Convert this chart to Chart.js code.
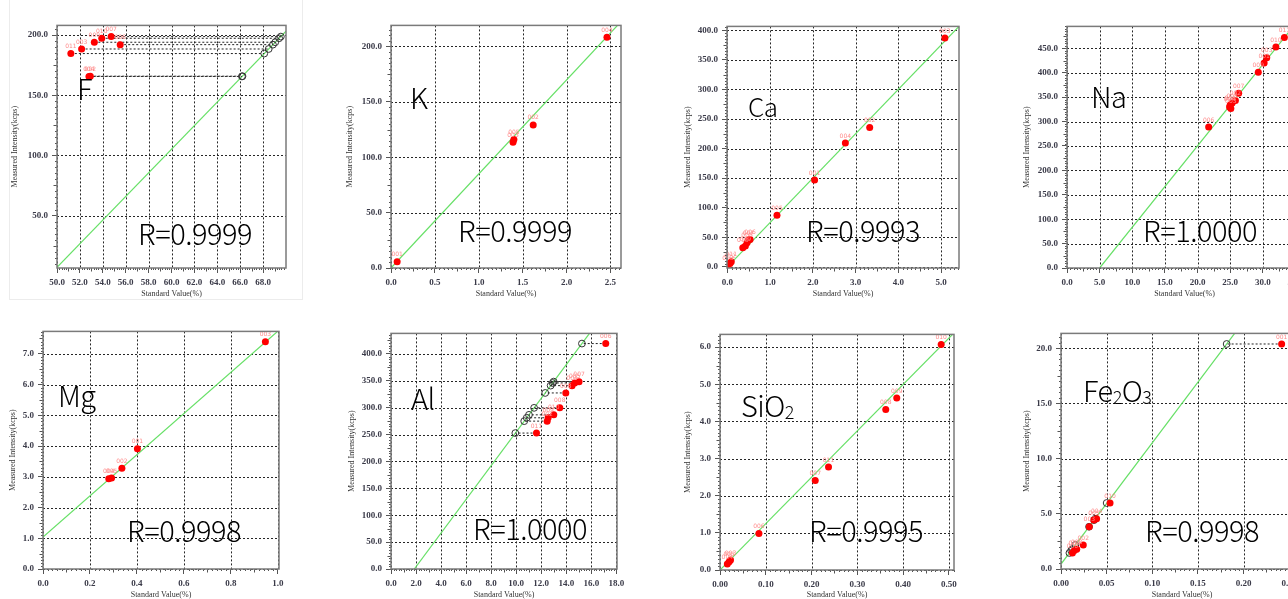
<!DOCTYPE html>
<html><head><meta charset="utf-8">
<script src="https://cdn.jsdelivr.net/npm/chart.js@4.4.1/dist/chart.umd.min.js"></script>
<style>
html,body{margin:0;padding:0;background:#fff;}
body{width:1288px;height:599px;overflow:hidden;position:relative;}
canvas{position:absolute;}
.big{position:absolute;font-family:"Noto Sans CJK JP","Noto Sans",sans-serif;font-weight:300;line-height:1;color:#000;white-space:nowrap;letter-spacing:-0.5px;}
.big sub{font-size:0.62em;vertical-align:baseline;position:relative;top:0.12em;}
.frameF{position:absolute;left:9px;top:-1px;width:292px;height:299px;border:1px solid #ececec;}
</style></head><body>
<div class="frameF"></div>
<script>
// ---------------- DATA ----------------
const xTitle = "Standard Value(%)";
const yTitle = "Measured Intensity(kcps)";

// F
const fXTicks = ["50.0","52.0","54.0","56.0","58.0","60.0","62.0","64.0","66.0","68.0"];
const fYTicks = ["50.0","100.0","150.0","200.0"];
const fRedX  = [51.21, 52.15, 53.26, 53.91, 54.73, 55.52, 52.79, 52.91];
const fCircX = [68.10, 68.49, 69.06, 69.40, 69.55, 68.86, 66.15, 66.20];
const fY     = [184.6, 188.4, 194.0, 197.3, 198.7, 192.0, 165.6, 165.8];
const fNames = ["011","003","009","010","007","006","004","002"];
const fFitX = [50, 70], fFitY = [7, 203.2];

// K
const kXTicks = ["0.0","0.5","1.0","1.5","2.0","2.5"];
const kYTicks = ["0.0","50.0","100.0","150.0","200.0"];
const kX = [0.07, 1.39, 1.40, 1.62, 2.46];
const kY = [5.7, 113.6, 116.0, 129.2, 208.4];
const kNames = ["001","003","005","002","004"];
const kFitX = [0, 2.62], kFitY = [0, 222.4];

// Ca
const caXTicks = ["0.0","1.0","2.0","3.0","4.0","5.0"];
const caYTicks = ["0.0","50.0","100.0","150.0","200.0","250.0","300.0","350.0","400.0"];
const caX = [0.01, 0.06, 0.09, 0.36, 0.42, 0.46, 0.49, 0.53, 1.16, 2.04, 2.76, 3.33, 5.09];
const caY = [1.7, 5.6, 8.4, 32.4, 35.2, 40.8, 45.2, 46.4, 87.1, 146.9, 209.5, 235.7, 387.1];
const caNames = ["013","012","011","010","009","008","007","006","005","001","004","002","003"];
const caFitX = [0, 5.42], caFitY = [0, 406.7];

// Na
const naXTicks = ["0.0","5.0","10.0","15.0","20.0","25.0","30.0","35.0"];
const naYTicks = ["0.0","50.0","100.0","150.0","200.0","250.0","300.0","350.0","400.0","450.0"];
const naX = [21.7, 24.9, 25.0, 25.1, 25.3, 25.8, 26.3, 29.3, 30.2, 30.6, 32.0, 33.3];
const naY = [288.9, 330.0, 334.0, 327.0, 338.0, 343.0, 358.0, 401.0, 420.0, 431.0, 452.7, 472.4];
const naNames = ["006","004","005","003","008","002","007","009","001","003","010","011"];
const naFitX = [5, 35], naFitY = [0, 500.4];

// Mg
const mgXTicks = ["0.0","0.2","0.4","0.6","0.8","1.0"];
const mgYTicks = ["0.0","1.0","2.0","3.0","4.0","5.0","6.0","7.0"];
const mgX = [0.280, 0.292, 0.336, 0.402, 0.947];
const mgY = [2.94, 2.96, 3.28, 3.91, 7.39];
const mgNames = ["004","005","002","001","003"];
const mgFitX = [0, 1.005], mgFitY = [1.04, 7.77];

// Al
const alXTicks = ["0.0","2.0","4.0","6.0","8.0","10.0","12.0","14.0","16.0","18.0"];
const alYTicks = ["0.0","50.0","100.0","150.0","200.0","250.0","300.0","350.0","400.0"];
const alRedX  = [17.15, 15.02, 14.67, 14.46, 13.96, 13.48, 13.00, 12.55, 12.47, 11.62];
const alCircX = [15.25, 12.99, 12.91, 12.75, 12.32, 11.43, 11.02, 10.84, 10.64, 9.93];
const alY     = [419.1, 348.3, 345.8, 340.9, 327.3, 299.6, 286.6, 281.1, 274.9, 252.7];
const alNames = ["006","007","005","004","003","008","010","009","002","011"];
const alFitX = [1.86, 16.0], alFitY = [0, 442.6];

// SiO2
const siXTicks = ["0.00","0.10","0.20","0.30","0.40","0.50"];
const siYTicks = ["0.0","1.0","2.0","3.0","4.0","5.0","6.0"];
const siX = [0.016, 0.020, 0.023, 0.085, 0.208, 0.237, 0.362, 0.386, 0.483];
const siY = [0.16, 0.22, 0.27, 0.98, 2.41, 2.77, 4.32, 4.63, 6.07];
const siNames = ["004","005","003","006","007","011","008","009","010"];
const siFitX = [0, 0.511], siFitY = [0, 6.38];

// Fe2O3
const feXTicks = ["0.00","0.05","0.10","0.15","0.20","0.25"];
const feYTicks = ["0.0","5.0","10.0","15.0","20.0"];
const feRedX  = [0.2416, 0.0537, 0.0390, 0.0360, 0.0310, 0.0244, 0.0172, 0.0146, 0.0125];
const feCircX = [0.1814, 0.0500, 0.0373, 0.0362, 0.0307, 0.0157, 0.0123, 0.0111, 0.0092];
const feY     = [20.39, 5.98, 4.55, 4.43, 3.83, 2.18, 1.80, 1.67, 1.45];
const feNames = ["001","010","004","005","003","002","008","009","006"];
const feFitX = [0, 0.195], feFitY = [0.45, 21.88];

// ---------------- PANELS (data refs + axis ranges) ----------------
const panels = [
  {xt:fXTicks, yt:fYTicks, rx:fRedX, cx:fCircX, ry:fY, names:fNames, fx:fFitX, fy:fFitY, xr:[50,70], yr:[6.4,208]},
  {xt:kXTicks, yt:kYTicks, rx:kX, ry:kY, names:kNames, fx:kFitX, fy:kFitY, xr:[0,2.62], yr:[0,219]},
  {xt:caXTicks, yt:caYTicks, rx:caX, ry:caY, names:caNames, fx:caFitX, fy:caFitY, xr:[-0.01,5.42], yr:[-2,406.7]},
  {xt:naXTicks, yt:naYTicks, rx:naX, ry:naY, names:naNames, fx:naFitX, fy:naFitY, xr:[0,36], yr:[0,495]},
  {xt:mgXTicks, yt:mgYTicks, rx:mgX, ry:mgY, names:mgNames, fx:mgFitX, fy:mgFitY, xr:[0,1.005], yr:[0,7.73]},
  {xt:alXTicks, yt:alYTicks, rx:alRedX, cx:alCircX, ry:alY, names:alNames, fx:alFitX, fy:alFitY, xr:[0,18.05], yr:[0,438]},
  {xt:siXTicks, yt:siYTicks, rx:siX, ry:siY, names:siNames, fx:siFitX, fy:siFitY, xr:[0,0.511], yr:[0,6.34]},
  {xt:feXTicks, yt:feYTicks, rx:feRedX, cx:feCircX, ry:feY, names:feNames, fx:feFitX, fy:feFitY, xr:[0,0.265], yr:[0,21.35]}
];

// ---------------- LAYOUT (positions only) ----------------
const geo = [
  {L:57,  T:24,  R:286,  B:268, tx:294, ty:15},
  {L:391, T:24,  R:621,  B:268, tx:294, ty:350},
  {L:727, T:25,  R:959,  B:268, tx:294, ty:688},
  {L:1067,T:25,  R:1302, B:268, tx:294, ty:1027},
  {L:43,  T:330, R:279,  B:569, tx:595, ty:13},
  {L:391, T:332, R:617,  B:569, tx:595, ty:352},
  {L:720, T:333, R:954,  B:570, tx:595, ty:688},
  {L:1061,T:332, R:1303, B:569, tx:595, ty:1027}
];

const bigLabels = [
  {html:"F", x:77, b:100, s:29},
  {html:"R=0.9999", x:138, b:245, s:29},
  {html:"K", x:410, b:109, s:29},
  {html:"R=0.9999", x:458, b:242, s:29},
  {html:"Ca", x:748, b:117, s:26},
  {html:"R=0.9993", x:806, b:242, s:29},
  {html:"Na", x:1091, b:108, s:29},
  {html:"R=1.0000", x:1143, b:242, s:29},
  {html:"Mg", x:58, b:407, s:29},
  {html:"R=0.9998", x:127, b:542, s:29},
  {html:"Al", x:411, b:410, s:29},
  {html:"R=1.0000", x:473, b:540, s:29},
  {html:"SiO<sub>2</sub>", x:741, b:417, s:29},
  {html:"R=0.9995", x:809, b:542, s:29},
  {html:"Fe<sub>2</sub>O<sub>3</sub>", x:1083, b:402, s:29},
  {html:"R=0.9998", x:1145, b:542, s:29}
];

// ---------------- PLUGINS ----------------
const decor = {
  id: 'decor',
  beforeDatasetsDraw(chart) {
    const ctx = chart.ctx, a = chart.chartArea;
    ctx.save();
    ctx.strokeStyle = '#262626';
    ctx.lineWidth = 1;
    ctx.setLineDash([2, 2]);
    chart.scales.x.ticks.forEach(t => {
      const p = Math.round(chart.scales.x.getPixelForValue(t.value)) + 0.5;
      ctx.beginPath(); ctx.moveTo(p, a.top); ctx.lineTo(p, a.bottom); ctx.stroke();
    });
    chart.scales.y.ticks.forEach(t => {
      const p = Math.round(chart.scales.y.getPixelForValue(t.value)) + 0.5;
      ctx.beginPath(); ctx.moveTo(a.left, p); ctx.lineTo(a.right, p); ctx.stroke();
    });
    ctx.restore();
  },
  afterDatasetsDraw(chart) {
    const ctx = chart.ctx;
    ctx.save();
    ctx.font = '6px "DejaVu Sans"';
    ctx.fillStyle = '#ff8a8a';
    ctx.textAlign = 'center';
    ctx.textBaseline = 'bottom';
    chart.data.datasets.forEach((ds, i) => {
      if (!ds.ptNames) return;
      chart.getDatasetMeta(i).data.forEach((el, j) => {
        ctx.fillText(ds.ptNames[j], el.x, el.y - 4);
      });
    });
    ctx.restore();
  },
  afterDraw(chart) {
    const ctx = chart.ctx, a = chart.chartArea;
    ctx.save();
    ctx.strokeStyle = '#555';
    ctx.lineWidth = 1;
    ['x','y'].forEach(id => {
      const s = chart.scales[id];
      const vals = s.ticks.map(t => t.value);
      const major = vals[1] - vals[0];
      const step = major / 10;
      const base = vals[0];
      const kStart = Math.ceil((s.min - base) / step - 1e-6);
      const kEnd = Math.floor((s.max - base) / step + 1e-6);
      for (let k = kStart; k <= kEnd; k++) {
        const r = ((k % 10) + 10) % 10;
        if (r === 0) continue;
        const len = r === 5 ? 3.5 : 2;
        const p = Math.round(s.getPixelForValue(base + k * step)) + 0.5;
        ctx.beginPath();
        if (id === 'x') { ctx.moveTo(p, a.bottom); ctx.lineTo(p, a.bottom + len); }
        else { ctx.moveTo(a.left, p); ctx.lineTo(a.left - len, p); }
        ctx.stroke();
      }
    });
    ctx.strokeStyle = '#7a7a7a';
    ctx.lineWidth = 1.5;
    ctx.strokeRect(a.left, a.top, a.right - a.left, a.bottom - a.top);
    ctx.restore();
  }
};

Chart.defaults.font.family = '"Liberation Serif", "DejaVu Serif", serif';
Chart.defaults.color = '#333';

const PT = 8, PR = 14;

function axis(labels, range, W, H, title, isX) {
  return {
    type: 'linear',
    min: range[0], max: range[1],
    afterBuildTicks: s => { s.ticks = labels.map(l => ({value: parseFloat(l)})); },
    afterFit: s => { if (isX) s.height = H; else s.width = W; },
    ticks: {
      autoSkip: false, maxRotation: 0, minRotation: 0, padding: 4,
      font: {size: 9, weight: 'bold'}, color: '#3a3a48',
      callback: (v, i) => labels[i]
    },
    grid: {drawOnChartArea: false, drawTicks: true, tickLength: 5, tickColor: '#555', tickWidth: 1},
    border: {display: false},
    title: {display: true, text: title, font: {size: 8}, color: '#333', padding: 0}
  };
}

panels.forEach((p, idx) => {
  const g = geo[idx];
  const cl = g.ty - 5, ct = g.T - PT, cb = g.tx + 5, cr = g.R + PR;
  const W = g.L - cl, H = cb - g.B;
  const cv = document.createElement('canvas');
  cv.width = cr - cl; cv.height = cb - ct;
  cv.style.left = cl + 'px'; cv.style.top = ct + 'px';
  cv.style.width = (cr - cl) + 'px'; cv.style.height = (cb - ct) + 'px';
  document.body.appendChild(cv);

  const datasets = [{
    data: p.rx.map((x, i) => ({x: x, y: p.ry[i]})),
    pointRadius: 3.5, backgroundColor: '#ff0000', borderColor: '#ff0000', borderWidth: 0,
    pointHoverRadius: 3.5, ptNames: p.names
  }];
  if (p.cx) {
    datasets.push({
      data: p.cx.map((x, i) => ({x: x, y: p.ry[i]})),
      pointRadius: 3.4, backgroundColor: 'rgba(255,255,255,0)', borderColor: '#333', borderWidth: 1
    });
    datasets.push({
      data: p.rx.flatMap((x, i) => [{x: x, y: p.ry[i]}, {x: p.cx[i], y: p.ry[i]}, {x: p.cx[i], y: null}]),
      showLine: true, spanGaps: false, pointRadius: 0, borderColor: '#222', borderWidth: 1, borderDash: [2, 2]
    });
  }
  datasets.push({
    data: p.fx.map((x, i) => ({x: x, y: p.fy[i]})),
    showLine: true, pointRadius: 0, borderColor: '#66e066', borderWidth: 1.2
  });

  new Chart(cv, {
    type: 'scatter',
    data: {datasets},
    options: {
      responsive: false, animation: false, devicePixelRatio: 1, events: [],
      layout: {padding: {top: PT, right: PR, left: 0, bottom: 0}},
      plugins: {legend: {display: false}, tooltip: {enabled: false}},
      scales: {
        x: axis(p.xt, p.xr, W, H, xTitle, true),
        y: axis(p.yt, p.yr, W, H, yTitle, false)
      }
    },
    plugins: [decor]
  });
});

bigLabels.forEach(l => {
  const d = document.createElement('div');
  d.className = 'big';
  d.innerHTML = l.html;
  d.style.fontSize = l.s + 'px';
  d.style.left = l.x + 'px';
  d.style.top = (l.b - 0.936 * l.s) + 'px';
  document.body.appendChild(d);
});
</script>
</body></html>
